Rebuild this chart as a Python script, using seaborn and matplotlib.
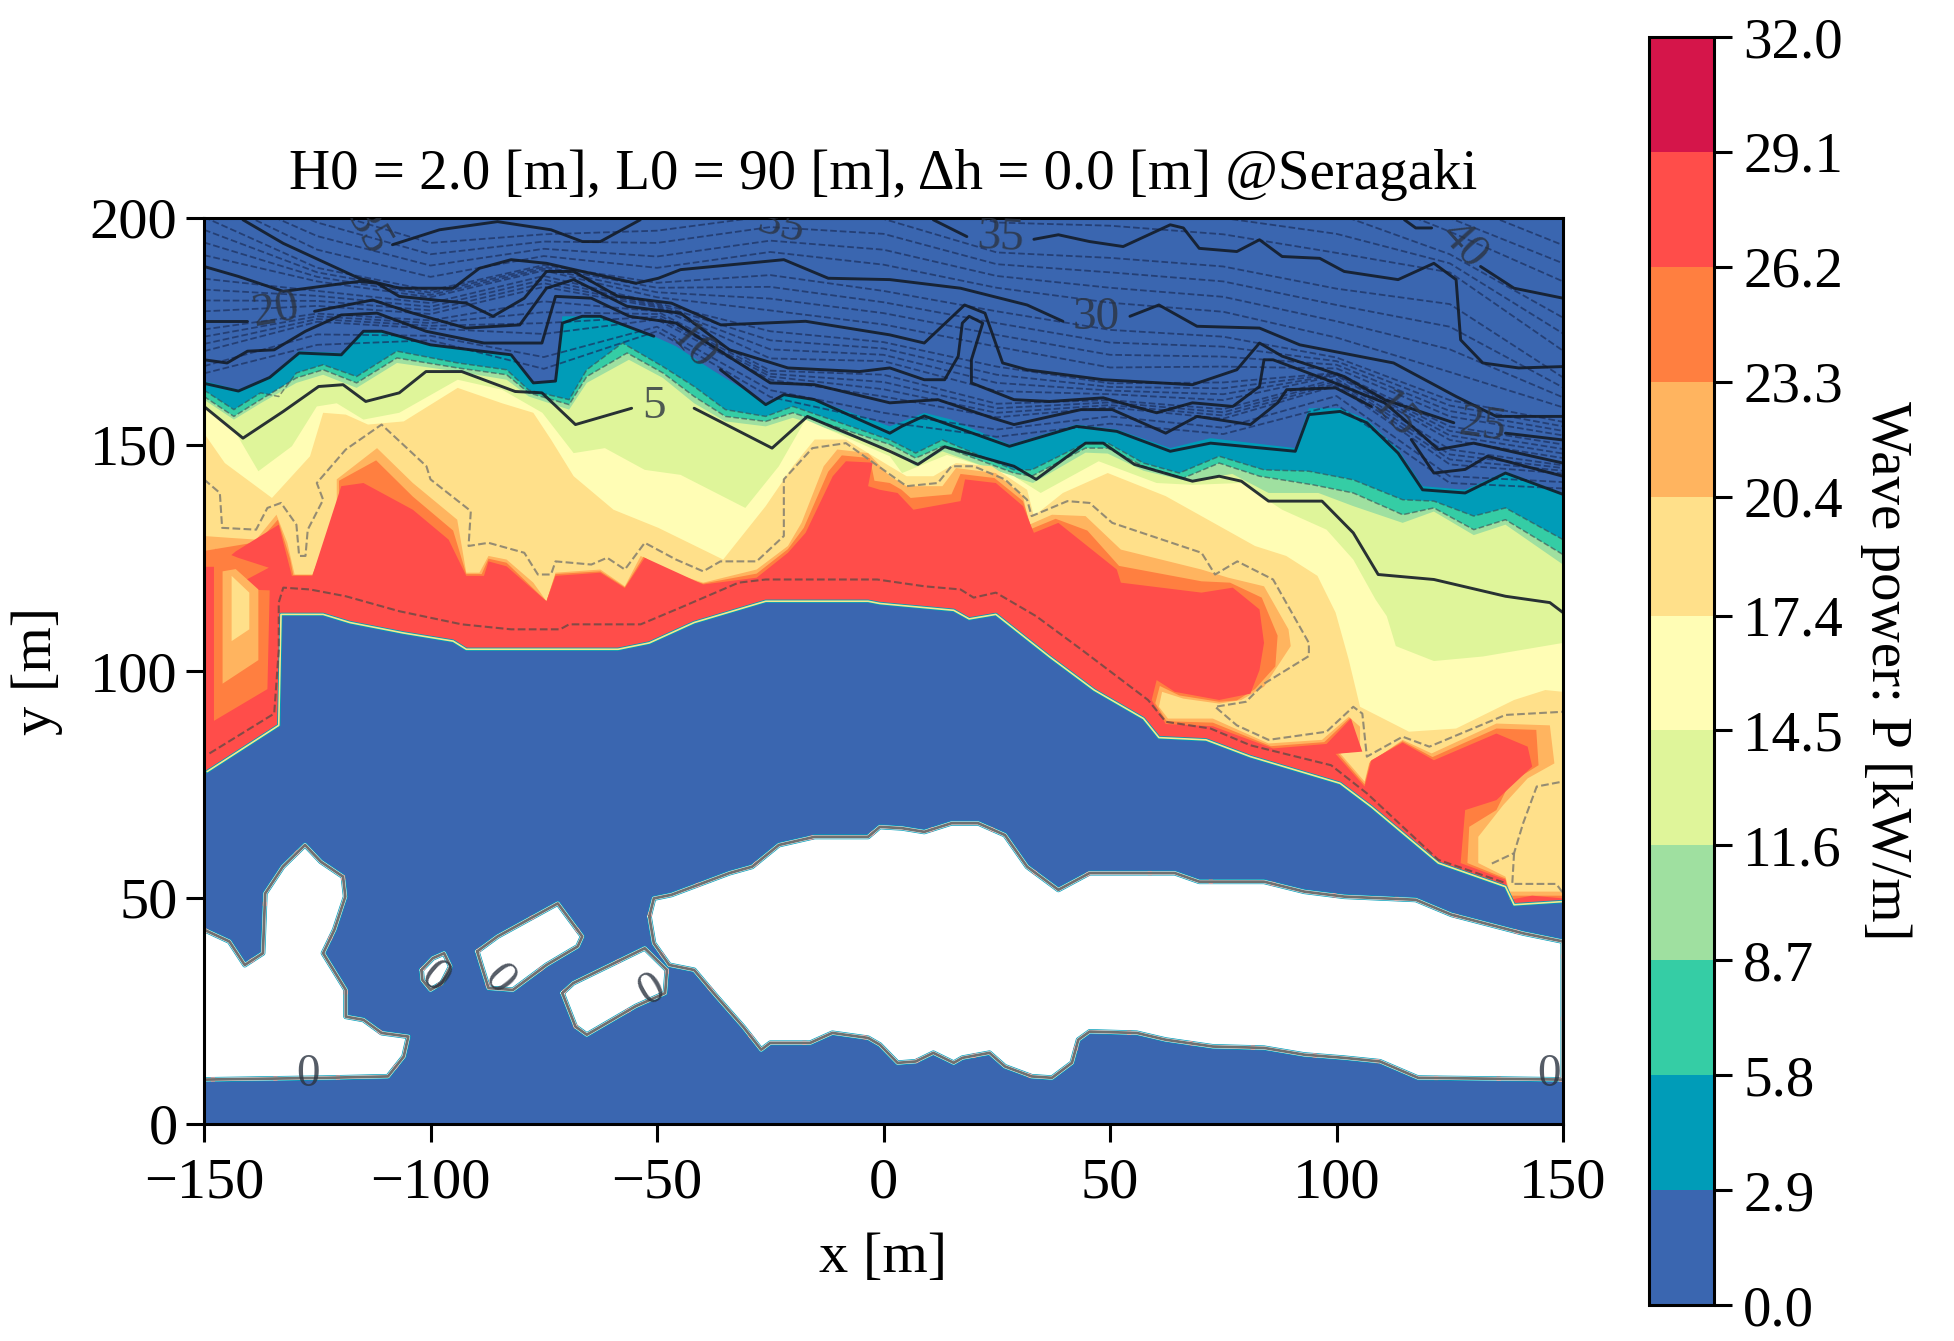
import numpy as np
import matplotlib
matplotlib.use("Agg")
import matplotlib.pyplot as plt
from matplotlib.colors import ListedColormap, BoundaryNorm
from matplotlib.cm import ScalarMappable
import seaborn as sns

LEVELS = [0.0, 2.9, 5.8, 8.7, 11.6, 14.5, 17.4, 20.4, 23.3, 26.2, 29.1, 32.0]
COLORS = ['#3A66B0', '#009CB8', '#35CDA5', '#9FE0A0', '#DFF59A', '#FFFDB5',
          '#FFE08A', '#FFB45F', '#FF7F40', '#FF4D4A', '#D5154A']

# inner edge of the shallow zone (all bands close on this one)
HARBOR = [(150, 49.1), (139.2, 48.4), (137.3, 52.4), (122.5, 57.6), (107.7, 70), (100.8, 75.2), (81, 81.1),
          (71.2, 84.8), (60.8, 85.3), (57.4, 89.5), (46.5, 95.8), (36.7, 103.1), (24.8, 112.5), (18.9, 111.5),
          (15.5, 113.4), (-0.8, 114.9), (-3.4, 115.4), (-26, 115.4), (-41.8, 110.7), (-51.7, 106.2), (-58.6, 104.8),
          (-92.1, 104.8), (-95, 106.6), (-106, 108.4), (-117.8, 110.7), (-123.7, 112.5), (-133, 112.5), (-133.5, 88),
          (-149.3, 77.8), (-150, 77.5)]

TOP_2_9 = [(-150, 164), (-142.4, 162.1), (-135.5, 165), (-129, 170.6), (-119.7, 170.2), (-114.8, 175), (-110.8, 175),
           (-100, 172), (-82.2, 169.8), (-77.3, 163.6), (-72.4, 164), (-70.9, 178.3), (-62.5, 178.3), (-50.7, 173.9),
           (-45.8, 171.7), (-37.9, 166.5), (-26, 159.2), (-22, 161), (-15.2, 159.9), (1.4, 154), (4, 155), (9, 157),
           (15, 155.5), (27.8, 150), (42.6, 154.4), (51.5, 153.3), (63.3, 149.2), (72.2, 151.4), (90.9, 149.2),
           (93.9, 158), (100.8, 158), (106.7, 155.5), (113.6, 148.9), (119, 140.8), (128.4, 140), (137.3, 144), (150, 139.3)]
TOP_5_8 = [(-150, 162), (-143.4, 157.7), (-137.5, 161.4), (-133.5, 160.6), (-129.6, 165.8), (-123.7, 167.6), (-116.3, 165),
           (-107.4, 170.6), (-94, 168), (-83.2, 166.5), (-78.3, 162), (-69.4, 159.9), (-65.5, 166.5), (-57.6, 172.4),
           (-48.7, 167.2), (-41.8, 162.8), (-34.9, 157.7), (-26, 156.2), (-20, 158.4), (1.4, 151), (7.1, 148.1), (13, 151),
           (28.8, 144.4), (32.7, 144.4), (44.6, 150.3), (49.5, 150.3), (57.4, 145.9), (65.3, 143.7), (74.1, 147.4),
           (84, 144.4), (93.9, 144.1), (103.7, 142.2), (114.6, 137.8), (121.5, 137.5), (130.3, 134.2), (137.3, 136), (150, 129)]
TOP_8_7 = [(-150, 160.6), (-143.4, 156.2), (-137.5, 159.9), (-129.6, 164.7), (-123.7, 166.5), (-116.3, 163.6), (-107.4, 169.1),
           (-94, 166.9), (-83.2, 165.4), (-78.3, 161.4), (-69.4, 158.8), (-65.5, 165), (-56.6, 170.2), (-48.7, 165.8),
           (-41.8, 160.6), (-34.9, 156.2), (-26, 155.1), (-20, 157), (1.4, 150), (7.1, 147), (13, 149.6), (28.8, 143.7),
           (32.7, 143), (44.6, 149.2), (49.5, 149.2), (57.4, 145.2), (66.2, 142.6), (74.1, 145.9), (83, 143), (94.8, 141.1),
           (103.7, 139.3), (114.6, 134.5), (121.5, 136), (130.3, 131.2), (137.3, 133.4), (150, 125.7)]
TOP_11_6 = [(-150, 159.9), (-143.4, 155.5), (-137.5, 159.1), (-129.6, 163.6), (-123.7, 165.4), (-116.3, 162.5), (-107.4, 168),
            (-94, 166.1), (-83.2, 164.3), (-78.3, 160.6), (-69.4, 157.7), (-65.5, 163.6), (-56.2, 168.7), (-48.7, 164.7),
            (-41.8, 159.1), (-34.9, 155.1), (-26, 154), (-20, 155.9), (1.4, 149), (7.1, 145.2), (13, 148.5), (28.8, 142.8),
            (33, 141.5), (44.6, 148.2), (49.5, 148), (57.4, 144.2), (67.2, 141.9), (77, 143.5), (85, 139.3), (96, 139.3),
            (103.7, 136.4), (114.6, 132.7), (121.5, 135.2), (130.3, 130), (137.3, 132.3), (150, 123.5)]
TOP_14_5 = [(-150, 158), (-143.4, 153.3), (-138, 144.1), (-130.6, 149.6), (-125.1, 158.4), (-120.7, 159.1), (-114.8, 155.5),
            (-106.9, 157), (-94, 164.3), (-84.2, 162.1), (-75.3, 157), (-68.4, 148.1), (-61.5, 149.2), (-52.7, 144.4),
            (-44.8, 143.3), (-30.5, 136), (-23.1, 145.2), (-17.2, 155.5), (1.4, 147.4), (4.1, 143.7), (14, 147.7), (28.8, 143),
            (34.7, 139.3), (47.5, 146.3), (60.3, 141.5), (68.2, 141.1), (79, 141.5), (88, 135.6), (97.8, 131.2), (103.7, 124.6),
            (108.6, 115.8), (111.1, 112.1), (113.1, 105.5), (121.5, 102.2), (132.3, 103.2), (150, 106.2)]
TOP_17_4 = [(-150, 152.5), (-145.4, 145.9), (-135, 138.2), (-126.6, 147.4), (-123.7, 157), (-118.7, 156.6), (-113.8, 154.4),
            (-105.9, 155.1), (-94, 162.5), (-84.2, 159.1), (-77.3, 157), (-73.4, 151.1), (-68.4, 143), (-59.6, 135.6),
            (-49.7, 131.6), (-35.4, 124.6), (-26, 136.4), (-20, 145.2), (-15.2, 151.1), (-8.3, 151.1), (1.4, 145.2), (5.1, 143),
            (11, 143), (16, 145.9), (23.9, 145.2), (31.7, 140), (33.2, 134.2), (39.6, 139.3), (49.5, 143.7), (62.3, 138.6),
            (82, 127.6), (88.9, 125.4), (95.8, 121), (99.8, 112.9), (102.7, 102.5), (105.2, 92.1), (116, 86.6), (126.4, 87.3),
            (139.2, 93.6), (146.1, 95.8), (150, 95.4)]
TOP_20_4 = [(-150, 129.8), (-144.4, 129.4), (-138.5, 129), (-134, 134.5), (-131.6, 128.3), (-130, 121.3), (-126.1, 121.3),
            (-120.7, 133.4), (-120.7, 142.3), (-111.8, 149.2), (-103.9, 141.5), (-94.1, 133.4), (-92.1, 121.7), (-89.2, 121.7),
            (-87.2, 125.4), (-83.2, 124.6), (-77.3, 119.5), (-74.4, 115.4), (-72.4, 121.7), (-62.5, 122.4), (-57.1, 118.7),
            (-53.6, 125.4), (-46.7, 121.7), (-39.8, 119.5), (-28, 122.4), (-21.1, 127.6), (-18.1, 132.7), (-13.2, 145.2),
            (-10.2, 148.9), (-3.4, 148.1), (1.4, 143), (5.1, 140.8), (13, 140.8), (16, 144.8), (24.8, 143.7), (30.8, 138.6),
            (32.2, 132.3), (37.2, 134.5), (44.6, 134.2), (52.4, 126.8), (70.2, 122.4), (76.1, 120.6), (84, 118.7), (89.4, 109.2),
            (89.9, 105.5), (84, 96.5), (79, 93.6), (74.1, 92.8), (66.2, 93.9), (61.5, 95.4), (60.8, 92.1), (62.8, 89.5),
            (72.7, 89.5), (85, 84), (96.8, 84.8), (102.7, 89.9), (105.2, 87.7), (105.2, 82.5), (100.8, 81.8), (106.2, 75.6),
            (107.2, 79.6), (114.6, 84.8), (121, 81.8), (135.3, 88.4), (147.1, 88), (148.1, 79.6), (142.2, 76.3), (136.8, 70.4),
            (131.3, 63.4), (131.3, 57.6), (137.3, 54.6), (138.2, 51.3), (150, 51.3)]
TOP_23_3 = [(-150, 126.5), (-144, 127.5), (-138, 128.5), (-133.7, 133.4), (-131, 124.8), (-130.3, 121.2), (-126, 121.2),
            (-120.2, 137), (-120.2, 142), (-112, 146.5), (-103.9, 138.5), (-95, 131), (-92.1, 121.4), (-88.7, 121.4),
            (-87.2, 124.8), (-83.2, 123.9), (-74.4, 115.4), (-72.4, 121.4), (-62.5, 122), (-57.1, 118.5), (-53, 125.2),
            (-46.7, 121.2), (-39.8, 119.3), (-28, 121.5), (-21.1, 126.9), (-17.6, 131.6), (-12.2, 144), (-9.2, 147.6), (-3, 147),
            (-2, 142), (1.4, 141.5), (4, 140), (6, 138.2), (15, 139), (17, 143.5), (24.5, 142.6), (30.8, 137.5), (32.7, 131.4),
            (38, 133.6), (45, 131), (52, 123.2), (70.2, 119.8), (76.5, 119.5), (83.5, 116.2), (87, 107.8), (86.5, 101), (82, 96),
            (78, 93.5), (74.1, 93.2), (65.3, 94.6), (61, 96.7), (60, 92.9), (62.5, 88.9), (72.7, 88.6), (85.5, 83.4), (97.3, 84.3),
            (103, 89.7), (105.4, 82.4), (100.3, 81.8), (106.2, 75), (107.4, 80), (114.6, 84.5), (121.2, 81), (135.3, 87.3),
            (144.1, 87), (144.6, 79.2), (138.2, 75.2), (135.3, 69.3), (129.3, 65.6), (128.9, 57.6), (137.3, 54.2), (138.2, 50.4),
            (150, 50.4)]
TOP_26_2 = [(-150, 123), (-147, 123), (-143, 126.4), (-133.5, 132.3), (-130.6, 121), (-126.1, 121), (-119.7, 140.8), (-114.8, 141.5),
            (-103.9, 135.6), (-96, 129), (-92.1, 121), (-88.2, 121), (-87.2, 124.2), (-83.2, 123.1), (-74.4, 115.4), (-72.4, 121),
            (-62.5, 121.7), (-57.1, 118.3), (-52.7, 125), (-39.8, 119.1), (-28, 120.6), (-21.1, 126.1), (-17.2, 130.5), (-11.2, 143),
            (-8.3, 146.3), (-2.4, 146), (-3.4, 140.8), (-0.8, 140), (3.1, 139.3), (6.6, 135.6), (17, 137.5), (18, 142.3), (24.8, 141.5),
            (30.8, 136.4), (33.2, 130.5), (38.6, 132.7), (51.5, 122.4), (52.4, 119.5), (70.2, 117.3), (77.1, 118.4), (83, 113.6),
            (84, 106.2), (83, 100.2), (81, 95), (74.1, 93.6), (64.3, 95.4), (60.3, 98), (59.2, 93.6), (62.3, 88.3), (72.7, 87.8),
            (86, 82.9), (97.8, 83.9), (103.2, 89.5), (105.7, 82.2), (99.8, 81.7), (106.2, 74.5), (107.7, 80.3), (114.6, 84.2),
            (121.5, 80.3), (135.3, 86.2), (142.2, 83.3), (143.2, 78.9), (135.3, 71.5), (128.4, 69.3), (127.4, 57.6), (137.3, 53.9),
            (138.2, 49.5), (143.2, 50.4), (150, 49.8)]

# strip along the west edge
STRIP_23_3 = [(-147.8, 123.5), (-147.5, 127), (-142.5, 125), (-135.7, 122.8), (-141.9, 119.5), (-141, 118), (-135.5, 117.8),
              (-136, 96), (-147.8, 89)]
STRIP_20_4 = [(-145.9, 122), (-143, 122.5), (-138, 118), (-138, 102.4), (-145.9, 97.2)]
STRIP_17_4 = [(-143.9, 121), (-140, 117.3), (-140, 109.2), (-143.9, 106.6)]

# land
LAND_WEST = [(-150, 42.9), (-144.4, 40.3), (-141, 35.1), (-137, 37.7), (-136.5, 50.9), (-132.6, 56.8), (-127.7, 61.6), (-124.2, 57.9),
             (-119.3, 54.6), (-118.8, 50.2), (-121.2, 42.9), (-123.7, 37.7), (-118.7, 29.6), (-118.7, 23.7), (-114.8, 23), (-110.8, 20.1),
             (-104.9, 19.3), (-105.9, 14.9), (-109.4, 10.5), (-122.7, 10.2), (-150, 9.8)]
ROCK = [(-102, 34), (-99.5, 36.6), (-97, 37.7), (-95.6, 34.8), (-97.5, 31.1), (-100, 29.6), (-101.8, 31.8), (-102, 34)]
BREAKWATER_A = [(-89.7, 38.1), (-85.2, 41.4), (-71.9, 48.7), (-66.5, 41.4), (-67.5, 39.2), (-74.4, 35.1), (-81.8, 29.6), (-87.2, 30),
                (-88.7, 34.8), (-89.7, 38.1)]
BREAKWATER_B = [(-70.9, 28.9), (-68.5, 31.1), (-52.7, 38.8), (-47.8, 34), (-48.2, 28.9), (-54.7, 26), (-65.5, 19.7), (-68, 21.5), (-70.9, 28.9)]
LAND_EAST = [(-51.7, 45.8), (-50.7, 49.8), (-46.8, 50.6), (-34, 55.4), (-29, 56.8), (-23.1, 61.6), (-15.2, 63.4), (-3.4, 63.4), (-0.8, 65.6),
             (4.1, 65.3), (9, 64.5), (15, 66.4), (20.9, 66.4), (26.8, 63.8), (31.7, 56.8), (38.6, 51.7), (45.5, 55.4), (64.3, 55.4), (69.7, 53.5),
             (84, 53.5), (92.9, 51.3), (101.7, 50.2), (117.5, 49.5), (125.4, 46.2), (141.2, 42.1), (150, 40.3), (150, 9.8), (118, 10.2),
             (109.6, 13.8), (101.7, 14.6), (92.9, 15.3), (84, 16.8), (72.7, 17.1), (62.3, 18.6), (55.9, 20.1), (45.5, 20.4), (43, 18.6),
             (41.6, 13.5), (37.2, 10.2), (32.7, 10.5), (26.8, 12.7), (23.4, 15.7), (17.4, 14.6), (15.5, 13.5), (11, 15.7), (7.1, 13.8),
             (3.1, 13.5), (-0.8, 17.5), (-3.4, 19), (-11.3, 20.1), (-16.2, 17.9), (-25, 17.9), (-27, 16.4), (-31, 21.5), (-36.9, 28.2),
             (-41.8, 34), (-47.3, 35.1), (-50.7, 39.9), (-51.7, 45.8)]

# depth contours, split where the label sits
DEPTH_5 = [[(-150, 158.4), (-141.4, 151.4), (-132.5, 157.3), (-124.7, 162.8), (-119.3, 163.2), (-114.3, 159.5), (-106.9, 161.4), (-101, 166.1),
            (-93.1, 166.1), (-81.3, 161.7), (-75.4, 161.4), (-68, 154.4), (-55.6, 158)],
           [(-41.8, 158), (-24.6, 149.2), (-16.8, 156.2), (1.4, 148.5), (7.6, 145.6), (13.5, 149.5), (28.8, 145.2), (33.7, 142.3), (44.6, 150.3),
            (48.5, 150.3), (55.4, 145.6), (68.2, 141.9), (74.1, 143), (79, 141.9), (85, 137.5), (96.8, 137.5), (103.7, 130.5), (109.2, 121.3),
            (121.5, 120.2), (137.3, 116.5), (147.1, 115.1), (150, 112.9)]]
DEPTH_10 = [[(-150, 163.5), (-142.4, 161.8), (-135.5, 164.8), (-129, 170.2), (-119.7, 169.8), (-114.8, 175), (-110.8, 175), (-100, 172),
             (-82.2, 169.8), (-77.3, 163.6), (-72.4, 164), (-70.9, 176.8), (-66.5, 178.3), (-62.5, 178.3), (-50.7, 173.9)],
            [(-36, 166.5), (-26, 158.8), (-22, 161), (-15.2, 159.9), (1.4, 152.5), (4, 154), (9, 156.3), (27.8, 149.6), (42.6, 154), (51.5, 152.9),
             (63.3, 148.5), (72.2, 150.3), (90.9, 148.5), (93.9, 156.6), (100.8, 157.3), (106.7, 154.8), (113.6, 148.1), (119, 140), (128.4, 139.3),
             (137.3, 143.7), (150, 139)]]
DEPTH_15 = [[(-150, 168.7), (-144.9, 168), (-140.4, 170.6), (-134.5, 170.9), (-127.6, 175), (-119.7, 178.6), (-111.8, 179), (-101, 175), (-88.2, 172.4),
             (-75.4, 172.4), (-72.4, 182.7), (-64.5, 182.3), (-56.1, 178.3), (-45.8, 176.8), (-25, 163.6), (-15.2, 163.2), (1.4, 159.2), (12, 159.9),
             (23.9, 155.9), (28.8, 154.4), (43.6, 157.7), (50.5, 157.7), (62.3, 152.5), (69.2, 156.2), (81, 154.4), (87, 159.2), (89, 162.1),
             (99.8, 162.5), (107.7, 158.4)],
            [(116.5, 151.1), (121.5, 143.7), (128.4, 144.5), (133.3, 147.4), (150, 143)]]
DEPTH_20 = [[(-150, 177.2), (-140.4, 177.2)],
            [(-125.6, 179.4), (-112.8, 181.9), (-103.9, 179), (-92.1, 175.7), (-80.3, 176.4), (-74.4, 184.5), (-68.4, 186.4), (-56.6, 180.5), (-44.8, 179),
             (-34, 170.9), (-21.1, 166.9), (-5.3, 166.1), (1.4, 166.9), (9, 164.3), (13.5, 164.3), (16.5, 169.5), (17.4, 176.8), (18.9, 178.3), (21.9, 176.8),
             (19.4, 168.7), (19.4, 163.6), (28.8, 159.9), (36.7, 159.5), (48.5, 160.3), (60.3, 157), (68.2, 159.2), (77.1, 158.4), (83, 162.8), (84, 168.7),
             (86, 168.7), (97.8, 164.3), (110.6, 159.2), (117.5, 153.3), (122.5, 148.9), (130.3, 150.3), (150, 145.9)]]
DEPTH_25 = [[(-150, 189.3), (-142.4, 187.1), (-132.5, 183.8), (-115.8, 186), (-111.8, 185.6), (-106.9, 182.7), (-92.1, 181.2), (-86.2, 178.3), (-79.3, 182.3),
             (-74.4, 188.2), (-68.4, 188.2), (-58.6, 182.7), (-46.8, 181.2), (-35.9, 176.4), (-17.2, 177.2), (1.4, 174.2), (9, 172.4), (17.9, 180.8), (22.4, 179),
             (26.3, 168), (31.7, 166.5), (48.5, 164.3), (68.2, 163.2), (78, 166.5), (83, 172.4), (88, 169.5), (101.7, 165), (110.6, 159.9), (125.9, 154.8)],
            [(137.3, 152.5), (150, 151)]]
DEPTH_30 = [[(-141.4, 199.6), (-132.5, 194.4), (-115.8, 186.7), (-106.9, 184.5), (-95, 184.5), (-89.2, 188.9), (-82.2, 190.8), (-74.4, 190), (-66.5, 188.2),
             (-54.6, 185.6), (-49.7, 186.7), (-44.8, 188.6), (-22, 190.8), (-12.2, 186.7), (1.4, 186.4), (17, 184.5), (31.7, 180.8), (39.6, 177.2)],
            [(54.4, 178.3), (60.8, 180.8), (69.2, 176.1), (83, 175.7), (91.9, 172), (112.6, 168), (126.4, 160.6), (135.3, 156.2), (150, 156.2)]]
DEPTH_35 = [[(-108.4, 194.1), (-98, 197.4), (-85.2, 199.2), (-73.4, 197.4), (-66.5, 194.8), (-62.5, 194.8), (-53.7, 199.6)],
            [(11, 199.6), (18.4, 195.9)],
            [(33.2, 195.3), (38.6, 196.3), (45.5, 194.8), (52.9, 193.7), (63.3, 198.5), (66.2, 197.8), (69.7, 193.3), (78, 192.6), (83, 195.2), (88, 191.5),
             (96.3, 191.1), (101.7, 188.2), (113.6, 186.4), (121.5, 190), (126.4, 186.4), (127.4, 173.1), (132.3, 168), (140.2, 166.9), (150, 167.2)]]
DEPTH_40 = [[(115, 199.6), (117.5, 197.8), (121, 197.8)],
            [(131.8, 189.3), (139.2, 184.5), (150, 182.3)]]

# thin dashed contours in deep water, read at these x positions
DASH_X = [-150, -125, -100, -75, -50, -25, 0, 25, 50, 75, 100, 125, 150]
DASH_Y = [
    [165.7, 172, 173, 166.7, 175, 160.5, 155, 151.7, 154.6, 152.3, 158.8, 141.5, 140.3],
    [167.3, 174.3, 174, 169.3, 176, 162, 157, 153.3, 156.2, 153.7, 160.7, 143, 141.7],
    [170.6, 177.1, 175.6, 174.4, 177.6, 164.3, 160.6, 156, 158.2, 155.7, 163, 145.6, 143.6],
    [172.2, 177.7, 176.2, 176.8, 178.2, 165, 162.2, 157, 158.7, 156.4, 163.5, 146.7, 144.2],
    [173.8, 178.3, 176.8, 179.2, 178.8, 165.6, 163.8, 158, 159.3, 157.1, 164, 147.8, 144.8],
    [175.4, 178.9, 177.4, 181.6, 179.4, 166.3, 165.4, 159, 159.8, 157.8, 164.5, 148.9, 145.4],
    [179.4, 180.6, 178.8, 184.8, 180.3, 169, 168.4, 161.8, 161.1, 159.8, 165.2, 151, 147],
    [181.8, 181.7, 179.6, 185.6, 180.6, 171, 169.8, 163.6, 161.9, 161.1, 165.4, 152, 148],
    [184.2, 182.8, 180.4, 186.4, 180.9, 173, 171.2, 165.4, 162.7, 162.4, 165.6, 153, 149],
    [186.6, 183.9, 181.2, 187.2, 181.2, 175, 172.6, 167.2, 163.5, 163.7, 165.8, 154, 150],
    [191.8, 186, 182.5, 188.4, 182.5, 179.6, 176.5, 171.6, 167, 167.2, 166.8, 156.2, 152],
    [194.6, 187, 183, 188.8, 183.6, 182.2, 179, 174.2, 169.8, 169.4, 167.6, 157.4, 153],
    [197.4, 188, 183.5, 189.2, 184.6, 184.8, 181.4, 176.8, 172.5, 171.6, 168.4, 158.6, 154],
    [200.2, 189, 184, 189.6, 185.7, 187.4, 183.9, 179.4, 175.3, 173.8, 169.2, 159.8, 155],
    [205, 193, 187, 191.6, 189, 192.5, 189.7, 184.6, 181.3, 179.3, 173.6, 166, 158.2],
    [207, 196, 189.5, 193.2, 191.5, 195, 193, 187.2, 184.6, 182.6, 177.2, 171, 160.4],
    [209, 199, 192, 194.8, 194.5, 198, 196.5, 189.8, 188, 186, 180.8, 176, 162.6],
    [211, 202, 194.5, 196.4, 197.2, 200.5, 199.8, 192.4, 191.2, 189.3, 184.4, 181, 164.8],
    [217, 208, 200, 201.5, 204, 206, 206, 199, 198.3, 196.4, 192.3, 188, 170.7],
    [220, 212, 204, 205, 208, 209, 209, 204, 202, 200, 196.5, 190, 174.5],
    [222, 216, 208, 208.5, 211.5, 212, 212, 208, 206, 204, 201, 192, 178],
    [230, 225, 220, 218, 218, 218, 218, 216, 214, 212, 207, 197, 186],
    [235, 230, 225, 222, 222, 222, 222, 220, 218, 216, 212, 200, 190],
    [240, 235, 230, 226, 226, 226, 226, 224, 222, 220, 216, 204, 194],
]
# dashed contour near the harbour edge and the one through the pale orange
DASH_NEAR = [(-148.8, 81.8), (-134.5, 90.6), (-133.5, 104.6), (-133.5, 115.1), (-132.5, 118.4), (-126.6, 118), (-118.7, 116.5), (-106.9, 113.2),
             (-93.1, 110.3), (-82.2, 109.2), (-71.4, 109.2), (-69.4, 110.3), (-53.6, 110.3), (-44.8, 114), (-32, 119.5), (-26, 120.2), (-1.4, 120.2),
             (9, 118.7), (17, 118), (19.9, 116.2), (24.8, 117.3), (33.7, 112.1), (43.6, 104.8), (58.4, 93.6), (62.3, 88.8), (72.2, 87.3), (81, 83.6),
             (98.8, 79.2), (106.7, 73), (122.5, 58.3), (137.3, 53.2)]
DASH_MID = [(-150, 142.3), (-146.5, 139.3), (-146, 131.6), (-138.5, 131.2), (-136, 136), (-133, 137.1), (-129.6, 132.3), (-129, 125.4), (-127.6, 125.4),
            (-127.1, 131.2), (-123.7, 137.8), (-125.1, 141.5), (-118.7, 148.9), (-110.8, 154.4), (-100.9, 145.2), (-100, 142.3), (-91.1, 135.3), (-91.6, 127.6),
            (-87.2, 128.3), (-79.3, 126.1), (-76.3, 121.3), (-73.4, 121.3), (-72.4, 124.2), (-64.5, 123.5), (-61, 125), (-57.1, 122.4), (-52.7, 128.3),
            (-45.8, 124.6), (-39.8, 122), (-36, 124.2), (-28, 124.2), (-22, 129.8), (-22, 142.3), (-15.7, 149.2), (-8.3, 150.3), (1.4, 143.4), (5.1, 140.8),
            (12, 141.5), (15, 145.2), (19.9, 145.2), (26.8, 142.3), (31.7, 137.8), (32.7, 134.2), (40.6, 137.5), (45.5, 137.1), (50.5, 132.7), (70.2, 126.1),
            (73.2, 121.3), (78.1, 124.2), (86, 120.2), (93.9, 106.2), (93.9, 103.3), (84, 97.2), (80, 93.2), (73.2, 92.1), (78, 88), (85, 84.8), (97.8, 86.6),
            (103.7, 92.1), (105.7, 90.6), (106.7, 81.1), (114.6, 85.5), (120.5, 83.3), (137.3, 90.3), (150, 91)]
DASH_EAST = [(134.3, 57.5), (139.2, 59.8), (141.2, 66.4), (144.2, 74.5), (150, 75.6)]
DASH_EAST_LOW = [(139.2, 59.8), (138.8, 53), (148.5, 53), (150, 51)]

LABELS = ['5', '10', '15', '20', '25', '30', '35', '35', '35', '40', '0', '0', '0', '0', '0']
LABEL_X = [-50.7, -42.3, 112.6, -134, 132.3, 47, 25.8, -114, -22.6, 127.9, -127.1, 147, -99.2, -85, -51.2]
LABEL_Y = [158.4, 171.3, 156.2, 179.4, 154, 177.9, 195.5, 197, 198.1, 194.1, 10.9, 10.9, 32.2, 31.8, 29.6]
LABEL_ROT = [0, -48, -48, 10, -8, 0, -3, -60, -15, -48, 0, 0, -40, -50, 30]

XTICKS = [-150, -100, -50, 0, 50, 100, 150]
YTICKS = [0, 50, 100, 150, 200]


def xy(points):
    return np.array(points, dtype=float).T


def line(ax, points, **kws):
    x, y = xy(points)
    sns.lineplot(x=x, y=y, sort=False, estimator=None, ax=ax, legend=False, **kws)


sns.set_theme(style='ticks')
plt.rcParams['font.family'] = ['Liberation Serif', 'DejaVu Serif']

FS = 41
fig = plt.figure(figsize=(19.54, 13.41), dpi=100)
ax = fig.add_axes([204 / 1954, 1 - 1124 / 1341, 1359 / 1954, 906 / 1341])
ax.set_facecolor(COLORS[0])

tops = [TOP_2_9, TOP_5_8, TOP_8_7, TOP_11_6, TOP_14_5, TOP_17_4, TOP_20_4, TOP_23_3, TOP_26_2]
hx, hy = xy(HARBOR)
for top, color in zip(tops, COLORS[1:10]):
    tx, ty = xy(top)
    ax.fill(np.r_[tx, hx], np.r_[ty, hy], color=color, lw=0)
for strip, color in zip([STRIP_23_3, STRIP_20_4, STRIP_17_4], [COLORS[8], COLORS[7], COLORS[6]]):
    sx, sy = xy(strip)
    ax.fill(sx, sy, color=color, lw=0)

# thin rim of squeezed bands along the harbour edge
line(ax, HARBOR[:-1], color=COLORS[1], lw=2.4)
line(ax, HARBOR[:-1], color='#F4E98F', lw=1.2)

for y in DASH_Y:
    sns.lineplot(x=DASH_X, y=y, sort=False, estimator=None, ax=ax, legend=False,
                 color='#1c2f5c', lw=1.3, ls='--', alpha=0.7)
for pts in [TOP_5_8, TOP_8_7]:
    line(ax, pts, color='#3c4a50', lw=1.1, ls='--', alpha=0.6)
line(ax, DASH_NEAR, color='#6e4a45', lw=1.5, ls='--', alpha=0.85)
line(ax, DASH_MID, color='#8a8370', lw=1.5, ls='--', alpha=0.9)
line(ax, DASH_EAST, color='#8a8370', lw=1.5, ls='--', alpha=0.9)
line(ax, DASH_EAST_LOW, color='#8a8370', lw=1.5, ls='--', alpha=0.9)

for land in [LAND_WEST, LAND_EAST, ROCK, BREAKWATER_A, BREAKWATER_B]:
    lx, ly = xy(land)
    ax.fill(lx, ly, color='white', lw=0)
    line(ax, land, color=COLORS[1], lw=3.6)
    line(ax, land, color='#FF4D4A', lw=3.0, ls=(0, (1, 14)))
    line(ax, land, color='white', lw=2.6)
    line(ax, land, color='#707070', lw=2.0)

for depth in [DEPTH_5, DEPTH_10, DEPTH_15, DEPTH_20, DEPTH_25, DEPTH_30, DEPTH_35, DEPTH_40]:
    for seg in depth:
        line(ax, seg, color='#141c28', lw=2.1, alpha=0.9)

for text, x, y, rot in zip(LABELS, LABEL_X, LABEL_Y, LABEL_ROT):
    ax.text(x, y, text, fontsize=34, rotation=rot, ha='center', va='center',
            color='#2b3340', alpha=0.8, clip_on=True)

ax.set_xlim(-150, 150)
ax.set_ylim(0, 200)
ax.set_xticks(XTICKS)
ax.set_yticks(YTICKS)
ax.set_xticklabels([str(t).replace('-', '\u2212') for t in XTICKS])
ax.tick_params(labelsize=42, length=13, width=2.2, color='black', labelcolor='black')
ax.tick_params(axis='x', pad=11)
ax.tick_params(axis='y', pad=6)
for spine in ax.spines.values():
    spine.set_visible(True)
    spine.set_linewidth(2.2)
    spine.set_color('black')
ax.set_xlabel('x [m]', fontsize=42, color='black', labelpad=16)
ax.set_ylabel('y [m]', fontsize=42, color='black', labelpad=19)
ax.set_title('H0 = 2.0 [m], L0 = 90 [m], \u0394h = 0.0 [m] @Seragaki', fontsize=FS, color='black', pad=21)

cax = fig.add_axes([1649 / 1954, 1 - 1305 / 1341, 65 / 1954, 1268 / 1341])
cmap = ListedColormap(COLORS)
norm = BoundaryNorm(LEVELS, cmap.N)
cb = fig.colorbar(ScalarMappable(norm=norm, cmap=cmap), cax=cax, ticks=LEVELS, spacing='proportional')
cb.ax.set_yticklabels([f'{v:.1f}' for v in LEVELS])
cb.ax.tick_params(labelsize=FS, length=13, width=2.2, color='black', labelcolor='black', pad=8)
cb.outline.set_linewidth(2.2)
cb.outline.set_edgecolor('black')
cb.set_label('Wave power: P [kW/m]', fontsize=FS, rotation=270, labelpad=50, color='black')

fig.savefig('out.png', dpi=100)
plt.close(fig)
